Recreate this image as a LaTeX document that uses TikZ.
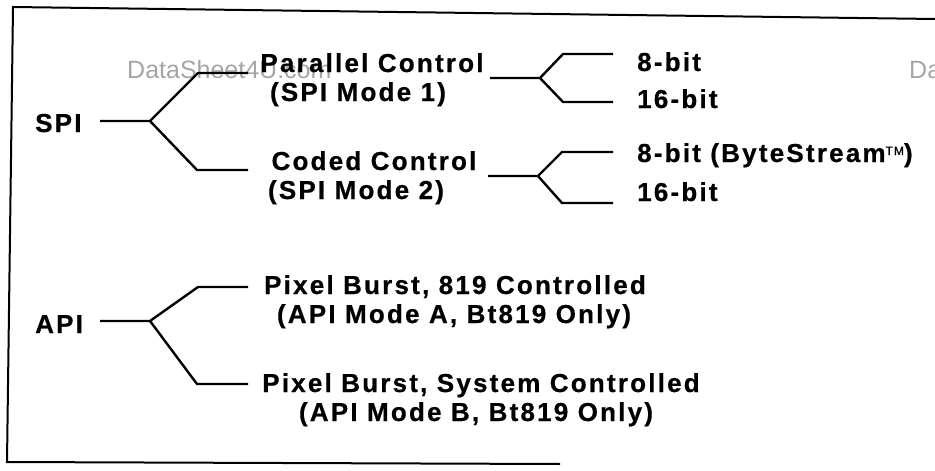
\documentclass[tikz,border=0pt]{standalone}
\usepackage{fontspec}
\setmainfont{Liberation Sans}
\newfontfamily\lblfont[LetterSpace=8.5,FakeBold=0.6]{Liberation Sans}
\newfontfamily\wmfont{Liberation Sans}
\definecolor{wmgray}{RGB}{165,165,165}
\tikzset{
  lbl/.style={font={\lblfont\bfseries\fontsize{26}{28}\selectfont}, inner sep=0pt, anchor=base},
  lblw/.style={lbl, anchor=base west},
  wm/.style={font={\wmfont\fontsize{25}{28}\selectfont}, text=wmgray, inner sep=0pt, anchor=base west},
  conn/.style={line width=2.4pt, line join=miter},
  frame/.style={line width=2pt}
}
\begin{document}
\begin{tikzpicture}[x=1pt,y=-1pt]
\useasboundingbox (0,0) rectangle (935,471);
% watermarks
\node[wm] (wm1) at (127,78) {DataSheet4U.com};
\node[wm] (wm2) at (909,78) {Da};
% frame
\coordinate (fTR) at (935,19);
\coordinate (fTL) at (13,7);
\coordinate (fBL) at (7,462);
\coordinate (fBR) at (560,464);
\draw[frame] (fTR) -- (fTL) -- (fBL) -- (fBR);
% labels
\node[lblw] (spi) at (35,132) {SPI};
\node[lblw] (api) at (35,333) {API};
\node[lbl] (pc1) at (372,72) {Parallel Control};
\node[lbl] (pc2) at (358,101) {(SPI Mode 1)};
\node[lbl] (cc1) at (374,170) {Coded Control};
\node[lbl] (cc2) at (356,199) {(SPI Mode 2)};
\node[lblw] (b8a) at (637,71) {8-bit};
\node[lblw] (b16a) at (637,108) {16-bit};
\node[lblw] (b8b) at (637,162) {8-bit (ByteStream{\raisebox{7pt}{\mdseries\fontsize{12}{12}\selectfont TM}})};
\node[lblw] (b16b) at (637,201) {16-bit};
\node[lbl] (pa1) at (455,294) {Pixel Burst, 819 Controlled};
\node[lbl] (pa2) at (454,323) {(API Mode A, Bt819 Only)};
\node[lbl] (pb1) at (481,392) {Pixel Burst, System Controlled};
\node[lbl] (pb2) at (476,421) {(API Mode B, Bt819 Only)};
% SPI fork
\coordinate (spiS) at (100,121);
\coordinate (spiF) at (150,121);
\coordinate (spiU) at (198,73);
\coordinate (spiUe) at (248,73);
\coordinate (spiD) at (197,170);
\coordinate (spiDe) at (248,170);
\draw[conn] (spiS) -- (spiF) -- (spiU) -- (spiUe);
\draw[conn] (spiF) -- (spiD) -- (spiDe);
% Parallel fork
\coordinate (pS) at (490,78);
\coordinate (pF) at (540,78);
\coordinate (pU) at (563,54);
\coordinate (pUe) at (613,54);
\coordinate (pD) at (563,102);
\coordinate (pDe) at (613,102);
\draw[conn] (pS) -- (pF) -- (pU) -- (pUe);
\draw[conn] (pF) -- (pD) -- (pDe);
% Coded fork
\coordinate (cS) at (488,176);
\coordinate (cF) at (538,176);
\coordinate (cU) at (562,152);
\coordinate (cUe) at (613,152);
\coordinate (cD) at (562,203);
\coordinate (cDe) at (613,203);
\draw[conn] (cS) -- (cF) -- (cU) -- (cUe);
\draw[conn] (cF) -- (cD) -- (cDe);
% API fork
\coordinate (aS) at (100,321);
\coordinate (aF) at (150,321);
\coordinate (aU) at (198,287);
\coordinate (aUe) at (248,287);
\coordinate (aD) at (197,384);
\coordinate (aDe) at (248,384);
\draw[conn] (aS) -- (aF) -- (aU) -- (aUe);
\draw[conn] (aF) -- (aD) -- (aDe);
\end{tikzpicture}
\end{document}
